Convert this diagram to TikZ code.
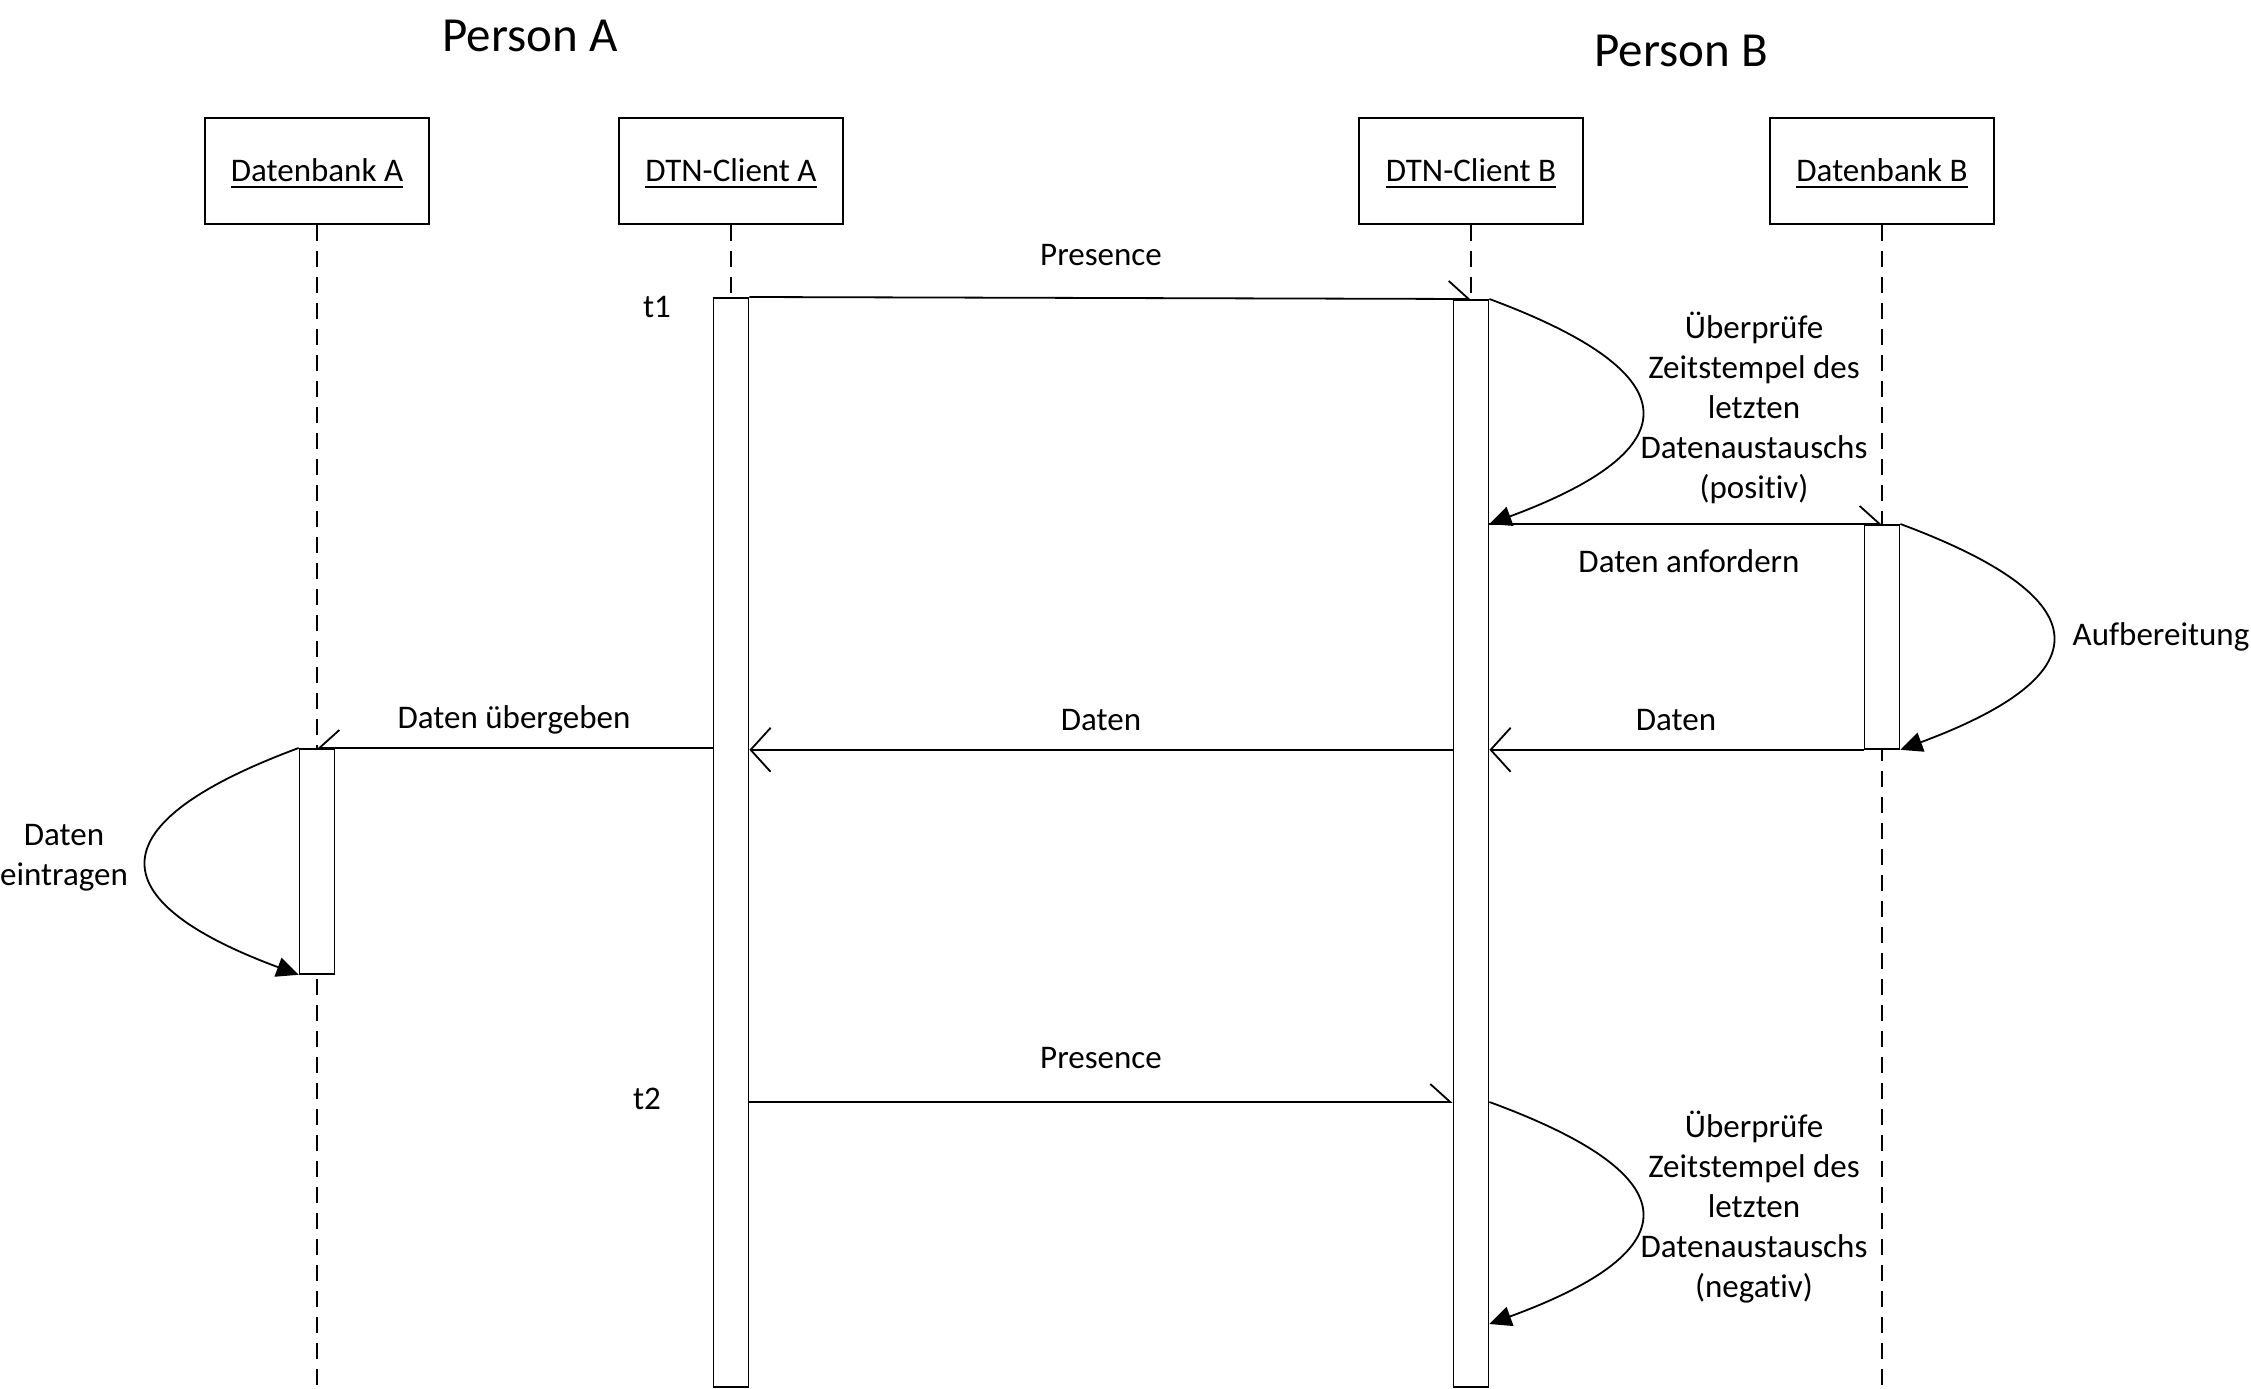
\documentclass[tikz,border=0pt]{standalone}
\usepackage{fontspec}
\setmainfont{Carlito}[Ligatures={NoCommon}]
\usetikzlibrary{arrows.meta}
\newcommand{\ulbox}[1]{\vtop{\hbox{\vrule width 0pt height 28pt\relax #1}\kern4pt\hrule height 2pt}}
\begin{document}
\begin{tikzpicture}[x=1pt,y=-1pt,
  every node/.style={font=\fontsize{33}{40}\selectfont, inner sep=0pt},
  title/.style={font=\fontsize{49}{59}\selectfont},
  lbl/.style={align=center},
  head/.style={draw, line width=1.8pt, minimum width=224pt, minimum height=106pt},
  act/.style={draw, fill=white, line width=1.8pt, minimum width=35pt, anchor=north},
  life/.style={line width=1.8pt, dash pattern=on 16pt off 10pt},
  msg/.style={line width=1.8pt},
  halfL/.style={-{Straight Barb[left,length=20pt,width=36pt]}},
  halfR/.style={-{Straight Barb[right,length=20pt,width=36pt]}},
  openarr/.style={-{Straight Barb[length=20pt,width=44pt]}},
  filled/.style={-{Triangle[length=22pt,width=20pt]}}
]
\useasboundingbox (0,0) rectangle (2251,1389);
\coordinate (bot) at (0,1389);
\coordinate (r2) at (0,1102);
\coordinate (r3) at (0,1324);

% titles
\node[title] (pA) at (530,36) {Person A};
\node[title] (pB) at (1681,51) {Person B};

% heads
\node[head] (hDA) at (317,171) {\ulbox{Datenbank A}};
\node[head] (hCA) at (731,171) {\ulbox{DTN-Client A}};
\node[head] (hCB) at (1471,171) {\ulbox{DTN-Client B}};
\node[head] (hDB) at (1882,171) {\ulbox{Datenbank B}};

% lifelines
\draw[life] (hDA.south) -- (hDA.south |- bot);
\draw[life] (hCA.south) -- (hCA.south |- bot);
\draw[life] (hCB.south) -- (hCB.south |- bot);
\draw[life] (hDB.south) -- (hDB.south |- bot);

% activation boxes
\node[act, minimum height=1089pt] (aCA) at (731,297) {};
\node[act, minimum height=1087pt] (aCB) at (1471,299) {};
\node[act, minimum height=224pt] (aDB) at (1882,524) {};
\node[act, minimum height=225pt] (aDA) at (317,748) {};

% messages
\draw[msg, halfL] (aCA.north east) -- (aCB.north);
\node (lp1) at (1101,255) {Presence};
\node (t1) at (657,307) {t1};

\draw[msg, filled] (aCB.north east) .. controls +(202,75) and +(202,-75) .. (aCB.east |- aDB.north);
\node[lbl] (chk1) at (1754,408) {Überprüfe\\Zeitstempel des\\letzten\\Datenaustauschs\\(positiv)};

\draw[msg, halfL] (aCB.east |- aDB.north) -- (aDB.north);
\node (lanf) at (1689,561) {Daten anfordern};

\draw[msg, filled] (aDB.north east) .. controls +(202,75) and +(202,-75) .. (aDB.south east);
\node (lauf) at (2161,637) {Aufbereitung};

\draw[msg, openarr] (aDB.south west) -- (aCB.east |- aDB.south);
\node (ld1) at (1676,720) {Daten};

\draw[msg, openarr] (aCB.west |- aDB.south) -- (aCA.east |- aDB.south);
\node (ld2) at (1101,720) {Daten};

\draw[msg, halfR] (aCA.west |- aDA.north) -- (aDA.north);
\node (lueb) at (514,720) {Daten übergeben};

\draw[msg, filled] (aDA.north west) .. controls +(-202,75) and +(-202,-75) .. (aDA.south west);
\node[lbl] (lein) at (64,858) {Daten\\eintragen};

\draw[msg, halfL] (aCA.east |- r2) -- (aCB.west |- r2);
\node (lp2) at (1101,1058) {Presence};
\node (t2) at (647,1099) {t2};

\draw[msg, filled] (aCB.east |- r2) .. controls +(202,74) and +(202,-74) .. (aCB.east |- r3);
\node[lbl] (chk2) at (1754,1207) {Überprüfe\\Zeitstempel des\\letzten\\Datenaustauschs\\(negativ)};
\end{tikzpicture}
\end{document}
